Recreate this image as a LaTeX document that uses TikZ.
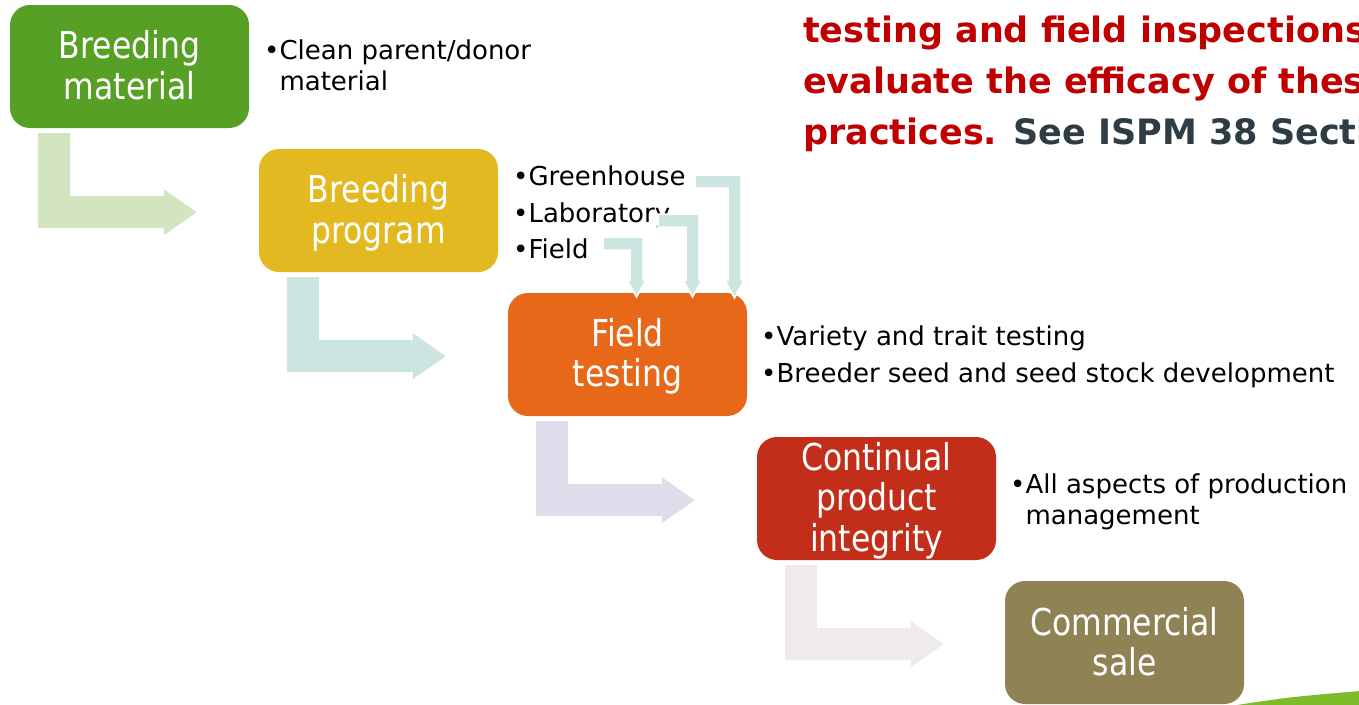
\documentclass[tikz,border=0pt]{standalone}
\usepackage{fontspec}
\setmainfont{DejaVu Sans}
\newfontfamily\boxfont{DejaVu Sans}[FakeStretch=0.85]
\definecolor{cgreen}{HTML}{56A125}
\definecolor{cyellow}{HTML}{E3B921}
\definecolor{corange}{HTML}{E8681A}
\definecolor{cred}{HTML}{C32E1A}
\definecolor{colive}{HTML}{8F8355}
\definecolor{agreen}{HTML}{D3E4C0}
\definecolor{ateal}{HTML}{CDE5E1}
\definecolor{alav}{HTML}{DEDDEB}
\definecolor{apink}{HTML}{EFEBED}
\definecolor{tred}{HTML}{C00000}
\definecolor{tgray}{HTML}{2F3C44}
\definecolor{swoosh}{HTML}{7DBB2A}
\newcommand\bs{\rule[-7.5pt]{0pt}{40pt}}
\newcommand\bentarrow[2]{%
  \begin{scope}[shift={(#1.south west)}]
    \fill[#2] (28,5) -- (60,5) -- (60,68) -- (154,68) -- (154,61) -- (187,84)
      -- (154,107) -- (154,100) -- (28,100) -- cycle;
  \end{scope}}
\begin{document}
\begin{tikzpicture}[x=1pt,y=-1pt,
  boxnode/.style={rounded corners=20pt, minimum width=239pt, minimum height=123pt,
    inner sep=0pt, align=center, text=white,
    font=\boxfont\fontsize{37}{40}\selectfont},
  bul/.style={anchor=base west, inner sep=0pt, font=\fontsize{26}{30}\selectfont},
  title/.style={anchor=base west, inner sep=0pt, font=\bfseries\fontsize{35}{50}\selectfont},
  small/.style={fill=ateal, draw=white, line width=1.5pt}]
\useasboundingbox (0,0) rectangle (1359,704);
\clip (0,0) rectangle (1359,704);

% boxes
\node[boxnode, fill=cgreen]  (b1) at (129.5,66.5)  {\bs Breeding\\\bs material};
\node[boxnode, fill=cyellow] (b2) at (378.5,210.5) {\bs Breeding\\\bs program};
\node[boxnode, fill=corange] (b3) at (627.5,354.5) {\bs Field\\\bs testing};
\node[boxnode, fill=cred]    (b4) at (876.5,498.5) {\bs Continual\\\bs product\\\bs integrity};
\node[boxnode, fill=colive]  (b5) at (1124.5,642.5) {\bs Commercial\\\bs sale};

% bent arrows
\bentarrow{b1}{agreen}
\bentarrow{b2}{ateal}
\bentarrow{b3}{alav}
\bentarrow{b4}{apink}

% bullet texts
\node[bul] (l1a) at (264,59) {•Clean parent/donor};
\node[bul] (l1b) at (264,90) {\hphantom{•}material};
\node[bul] (l2a) at (513,185) {•Greenhouse};
\node[bul] (l2b) at (513,222) {•Laboratory};
\node[bul] (l2c) at (513,258) {•Field};
\node[bul] (l3a) at (761,345) {•Variety and trait testing};
\node[bul] (l3b) at (761,382) {•Breeder seed and seed stock development};
\node[bul] (l4a) at (1010,493) {•All aspects of production};
\node[bul] (l4b) at (1010,524) {\hphantom{•}management};

% small arrows into Field testing
\filldraw[small] (695,175) -- (741,175) -- (741,280) -- (744,280) -- (734.5,298)
  -- (725,280) -- (728,280) -- (728,188) -- (695,188) -- cycle;
\filldraw[small] (658,214) -- (699,214) -- (699,280) -- (702,280) -- (692.5,297)
  -- (683,280) -- (686,280) -- (686,227) -- (658,227) -- cycle;
\filldraw[small] (603,237) -- (643,237) -- (643,280) -- (646,280) -- (636.5,297)
  -- (627,280) -- (630,280) -- (630,250) -- (603,250) -- cycle;

% title text
\node[title] (t1) at (803,42) {\color{tred}testing and field inspections};
\node[title] (t2) at (803,93) {\color{tred}evaluate the efficacy of thes};
\node[title] (t3) at (803,144) {\color{tred}practices. \color{tgray}See ISPM 38 Secti};

% swoosh
\fill[swoosh] (1237,705) .. controls (1290,697) .. (1360,691) -- (1360,705) -- cycle;
\end{tikzpicture}
\end{document}
